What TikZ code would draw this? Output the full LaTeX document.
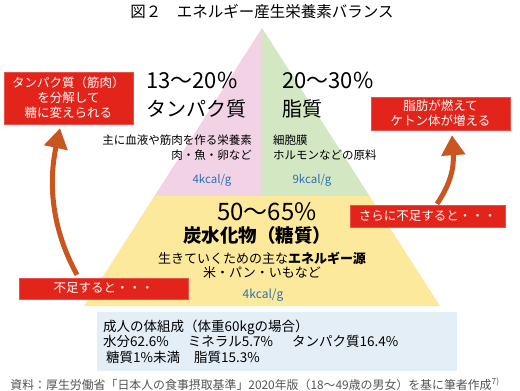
\documentclass[tikz,border=0pt]{standalone}
\usepackage{fontspec}
\setmainfont{Noto Sans CJK JP}
\usetikzlibrary{arrows.meta}
\definecolor{pinkf}{HTML}{F2D3E5}
\definecolor{greenf}{HTML}{D3E7C2}
\definecolor{yellowf}{HTML}{FCE99B}
\definecolor{redbox}{HTML}{E3241B}
\definecolor{arrowc}{HTML}{C8561E}
\definecolor{bluet}{HTML}{2F70B0}
\definecolor{bluebox}{HTML}{E4EEF7}
\definecolor{grayt}{HTML}{555555}
\newcommand\fsz[2]{\fontsize{#1}{#2}\selectfont}
\begin{document}
\begin{tikzpicture}[x=1pt,y=-1pt,
  redlabel/.style={fill=redbox,draw=redbox!80!white,text=white,inner sep=0pt,align=center,font=\fsz{12.5}{15}},
  bigarrow/.style={draw=arrowc,line width=5pt,-{Triangle[width=23pt,length=20pt]}},
  kcal/.style={text=bluet,font=\fsz{11.5}{14}},
  desc/.style={inner sep=0pt,font=\fsz{11.5}{14.5}}
]
\useasboundingbox (0,0) rectangle (520,391);
\fill[white] (0,0) rectangle (520,391);
% title
\node[font=\fsz{15.5}{18}] (title) at (262,12) {図２　エネルギー産生栄養素バランス};
% pyramid
\fill[pinkf] (262,28) -- (262,196) -- (154.5,196) -- cycle;
\fill[greenf] (262,28) -- (262,196) -- (369.5,196) -- cycle;
\fill[yellowf] (154.5,196) -- (369.5,196) -- (440,306) -- (84,306) -- cycle;
% upper texts
\node[anchor=west,inner sep=0pt,font=\fsz{22}{24}] (p13) at (146,80) {13～20\%};
\node[anchor=west,inner sep=0pt,font=\fsz{20}{24}] (tan) at (146,109) {タンパク質};
\node[anchor=west,inner sep=0pt,font=\fsz{22}{24}] (p20) at (282,80) {20～30\%};
\node[anchor=west,inner sep=0pt,font=\fsz{20}{24}] (shi) at (282,109) {脂質};
\node[desc,anchor=north east,align=right] (dl) at (252,135) {主に血液や筋肉を作る栄養素\\肉・魚・卵など};
\node[desc,anchor=north west,align=left] (dr) at (273,135) {細胞膜\\ホルモンなどの原料};
\node[kcal] (k1) at (212,180) {4kcal/g};
\node[kcal] (k2) at (312,180) {9kcal/g};
% lower texts
\node[font=\fsz{24}{26}] (p50) at (267,212) {50～65\%};
\node[font=\bfseries\fsz{18.5}{22}] (tan2) at (257,235) {炭水化物（糖質）};
\node[font=\fsz{13}{15}] (ene) at (262,258) {生きていくための主な\textbf{エネルギー源}};
\node[font=\fsz{13}{15}] (kome) at (262,273) {米・パン・いもなど};
\node[kcal,font=\fsz{12}{14}] (k3) at (263,295) {4kcal/g};
% blue box
\fill[bluebox] (97,312) rectangle (457,371);
\node[anchor=north west,inner sep=0pt,align=left,font=\fsz{13.5}{15.2}] (body) at (103,320)
  {成人の体組成（体重60kgの場合）\\水分62.6\%\hspace{19pt}ミネラル5.7\%\hspace{19pt}タンパク質16.4\%\\\hspace*{3pt}糖質1\%未満\hspace{14pt}脂質15.3\%};
% source
\node[text=grayt,font=\fsz{11.9}{12}] (src) at (255,384) {資料：厚生労働省「日本人の食事摂取基準」2020年版（18～49歳の男女）を基に筆者作成\textsuperscript{7)}};
% red boxes
\node[redlabel,minimum width=129pt,minimum height=52pt] (lbox) at (68.5,98) {タンパク質（筋肉）\\を分解して\\糖に変えられる};
\node[redlabel,minimum width=139pt,minimum height=33pt] (rbox) at (440.5,113.5) {脂肪が燃えて\\ケトン体が増える};
\node[redlabel,minimum width=155pt,minimum height=22pt] (more) at (427.5,216) {さらに不足すると・・・};
\node[redlabel,minimum width=169pt,minimum height=21pt] (less) at (103.5,288.5) {不足すると・・・};
% arrows
\draw[bigarrow] ([xshift=-26.5pt,yshift=3pt]less.north) .. controls (48,222) and (50,175) .. ([xshift=-8.5pt,yshift=-4pt]lbox.south);
\draw[bigarrow] ([xshift=9.5pt,yshift=1pt]more.north) .. controls (452,182) and (454,165) .. ([xshift=11.5pt,yshift=-5pt]rbox.south);
\end{tikzpicture}
\end{document}
